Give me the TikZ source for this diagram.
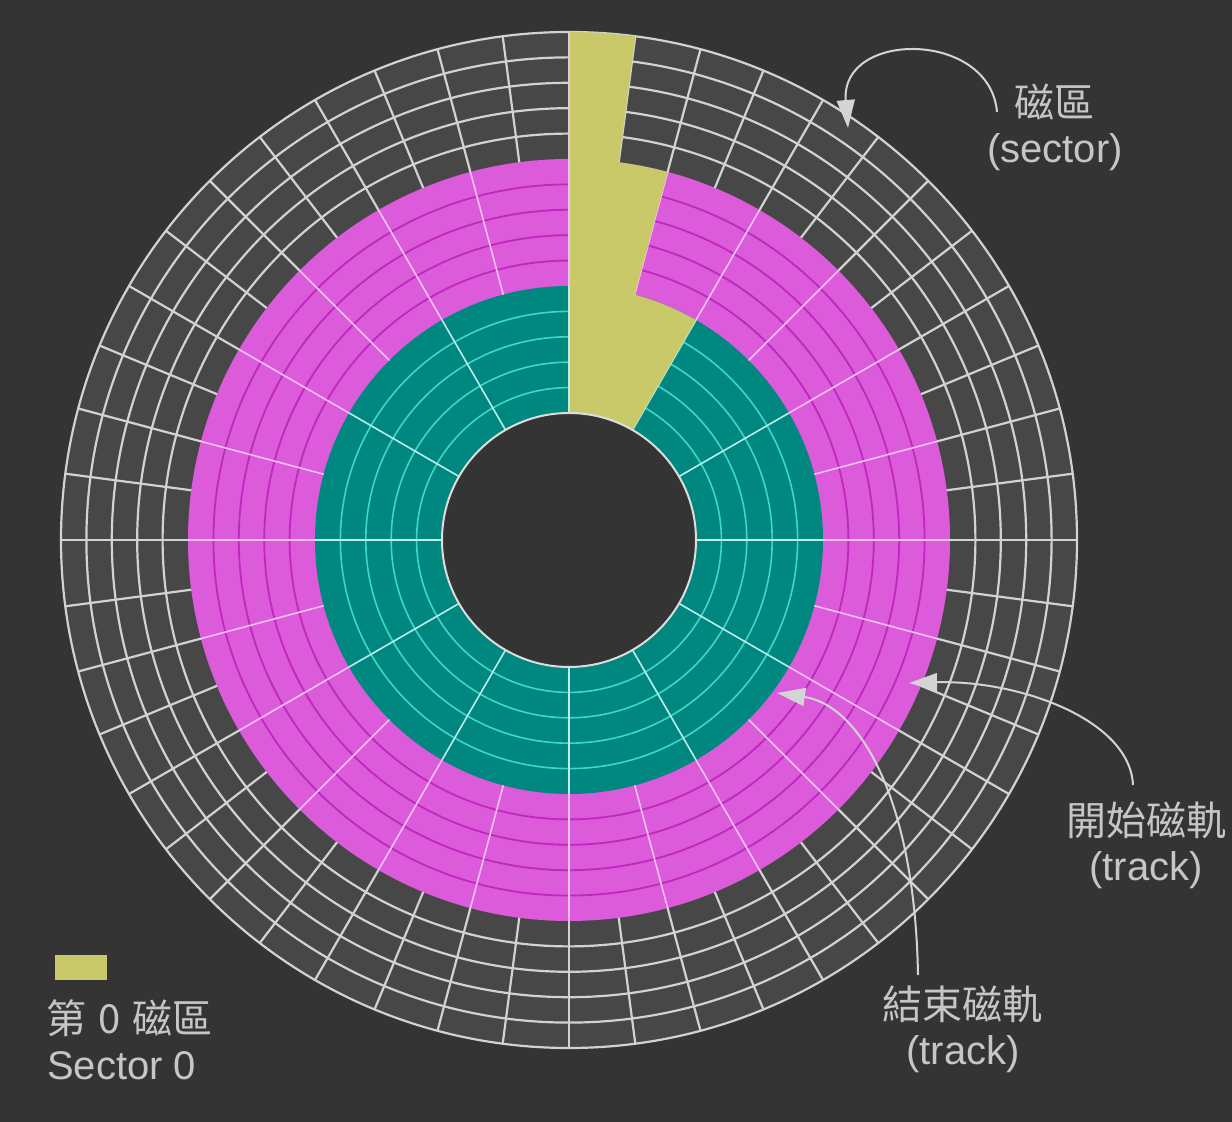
\documentclass[tikz,border=0pt]{standalone}
\usepackage{fontspec}
\setmainfont{Liberation Sans}
\newfontfamily\cjk{Noto Sans CJK TC}
\usetikzlibrary{arrows.meta}
\definecolor{bg}{HTML}{343434}
\definecolor{zonegray}{HTML}{474747}
\definecolor{gridgray}{HTML}{D2D2D2}
\definecolor{mag}{HTML}{DB5BDB}
\definecolor{magline}{HTML}{BE28BE}
\definecolor{magradial}{HTML}{F2C2F2}
\definecolor{tealz}{HTML}{00877F}
\definecolor{tealline}{HTML}{3CD8CA}
\definecolor{tealradial}{HTML}{BDEFE8}
\definecolor{holeedge}{HTML}{DDDDDD}
\definecolor{sec0}{HTML}{C9C96A}
\definecolor{labeltext}{HTML}{C6C6C6}
\definecolor{arrowgray}{HTML}{D4D4D4}
\begin{document}
\begin{tikzpicture}[x=1pt,y=1pt,
  lbl/.style={text=labeltext, font=\fontsize{40}{46}\selectfont, inner sep=0pt},
  zhlbl/.style={text=labeltext, font=\cjk\fontsize{40}{46}\selectfont, inner sep=0pt},
  callout/.style={draw=arrowgray, line width=2pt, -{Triangle[length=28pt,width=18pt,fill=arrowgray]}},
  graytrack/.style={draw=gridgray, line width=2.2pt},
  magtrack/.style={draw=magline, line width=1.8pt},
  tealtrack/.style={draw=tealline, line width=1.6pt},
  grayradial/.style={draw=gridgray, line width=2.2pt},
  magrad/.style={draw=magradial, line width=1.6pt},
  tealrad/.style={draw=tealradial, line width=1.6pt},
]
\fill[bg] (0,0) rectangle (1232,1122);
\useasboundingbox (0,0) rectangle (1232,1122);
\coordinate (C) at (569,582);

% zones
\fill[zonegray] (C) circle[radius=508];
\fill[mag] (C) circle[radius=381];
\fill[tealz] (C) circle[radius=254];
\fill[bg] (C) circle[radius=127];

% tracks
\foreach \k in {1,...,5} \draw[graytrack] (C) circle[radius={381+25.4*\k}];
\foreach \k in {1,...,4} \draw[magtrack] (C) circle[radius={254+25.4*\k}];
\foreach \k in {1,...,4} \draw[tealtrack] (C) circle[radius={127+25.4*\k}];

% sector boundaries
\foreach \k in {0,...,47} \draw[grayradial] ([shift={({7.5*\k}:381)}]C) -- ([shift={({7.5*\k}:508)}]C);
\foreach \k in {0,...,23} \draw[magrad] ([shift={({15*\k}:254)}]C) -- ([shift={({15*\k}:381)}]C);
\foreach \k in {0,...,11} \draw[tealrad] ([shift={({30*\k}:127)}]C) -- ([shift={({30*\k}:254)}]C);

% sector 0
\fill[sec0] ([shift={(90:127)}]C) -- ([shift={(90:508)}]C)
  arc[start angle=90, end angle=82.5, radius=508]
  -- ([shift={(82.5:381)}]C) arc[start angle=82.5, end angle=75, radius=381]
  -- ([shift={(75:254)}]C) arc[start angle=75, end angle=60, radius=254]
  -- ([shift={(60:127)}]C) arc[start angle=60, end angle=90, radius=127] -- cycle;
\draw[grayradial] ([shift={(90:381)}]C) -- ([shift={(90:508)}]C);
\draw[magrad] ([shift={(90:254)}]C) -- ([shift={(90:381)}]C);
\draw[tealrad] ([shift={(90:127)}]C) -- ([shift={(90:254)}]C);

% hole edge
\draw[holeedge, line width=2pt] (C) circle[radius=127];

% labels
\node[zhlbl] (seczh) at (1054,1020) {磁區};
\node[lbl] (secen) at (1055,970) {(sector)};
\node[zhlbl] (startzh) at (1146,302) {開始磁軌};
\node[lbl] (starten) at (1146,252) {(track)};
\node[zhlbl] (endzh) at (962,118) {結束磁軌};
\node[lbl] (enden) at (963,68) {(track)};

% legend
\node[fill=sec0, minimum width=52pt, minimum height=25pt, inner sep=0pt] (legbox) at (81,154.5) {};
\node[zhlbl, anchor=west] (legzh) at (46,104) {第\hspace{12pt}0\hspace{12pt}磁區};
\node[lbl, anchor=west] (legen) at (47,56) {Sector 0};

% callouts
\coordinate (secstart) at (997,1010);
\coordinate (sectip) at (848,994);
\draw[callout] (secstart) .. controls (990,1092) and (840,1092) .. (sectip);
\coordinate (ststart) at (1133,337);
\coordinate (sttip) at (909,439);
\draw[callout] (ststart) .. controls (1130,402) and (1020,442) .. (sttip);
\coordinate (enstart) at (918,147);
\coordinate (entip) at (777,429);
\draw[callout] (enstart) .. controls (915,322) and (860,417) .. (entip);
\end{tikzpicture}
\end{document}
